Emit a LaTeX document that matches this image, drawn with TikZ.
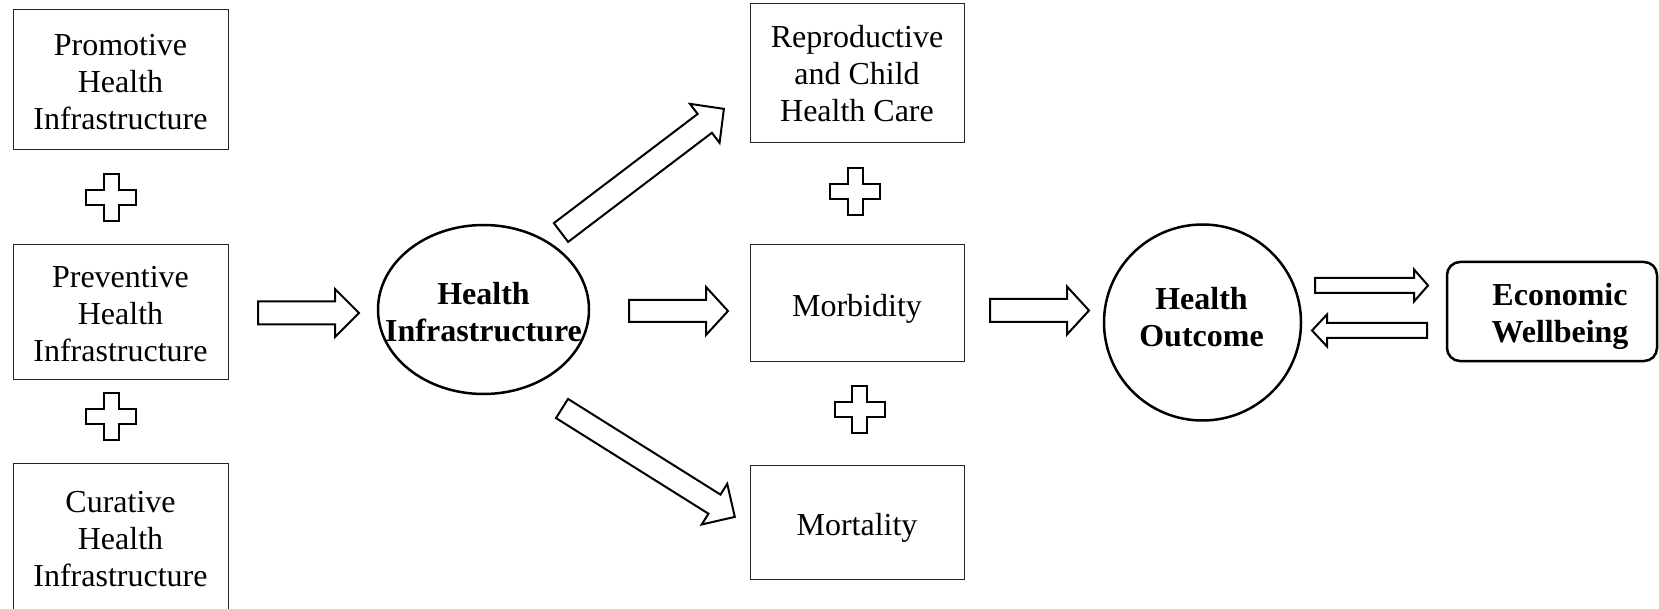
\documentclass[tikz,border=0pt]{standalone}
\usepackage{fontspec}
\setmainfont{Liberation Serif}
\usetikzlibrary{shapes.geometric}
\tikzset{
  txt/.style={font=\fontsize{32}{37}\selectfont, align=center, inner sep=0pt},
  boldtxt/.style={font=\fontsize{32}{37}\selectfont\bfseries, align=center, inner sep=0pt},
  sqbox/.style={txt, draw=black!85, line width=1pt, minimum width=215pt},
  oval/.style={draw, line width=2.5pt, ellipse, inner sep=0pt},
  ecobox/.style={draw, line width=2.5pt, rounded corners=13pt, inner sep=0pt},
  pics/fatarrow/.style args={#1/#2/#3/#4}{code={
    \draw[line width=2pt, line join=miter, fill=white]
      (0,-#2) -- ({#1-#4},-#2) -- ({#1-#4},-#3) -- (#1,0) -- ({#1-#4},#3) -- ({#1-#4},#2) -- (0,#2) -- cycle;
  }},
  pics/plussign/.style={code={
    \draw[line width=2pt, line join=miter]
      (-7.5,-23.5) -- (7.5,-23.5) -- (7.5,-7.5) -- (25,-7.5) -- (25,7.5) -- (7.5,7.5)
      -- (7.5,23.5) -- (-7.5,23.5) -- (-7.5,7.5) -- (-25,7.5) -- (-25,-7.5) -- (-7.5,-7.5) -- cycle;
  }}
}
\begin{document}
\begin{tikzpicture}[x=1pt,y=-1pt]
\useasboundingbox (0,0) rectangle (1659,609);

% left column
\node[sqbox, minimum height=140pt] (promo) at (120.5,80) {};
\node[txt] (promoT) at (120.5,82) {Promotive\\Health\\Infrastructure};
\node[sqbox, minimum height=134pt] (prev) at (120.5,312) {};
\node[txt] (prevT) at (120.5,314) {Preventive\\Health\\Infrastructure};
\node[sqbox, minimum height=150pt] (cur) at (120.5,538) {};
\node[txt] (curT) at (120.5,539) {Curative\\Health\\Infrastructure};
\pic at (111,197.5) {plussign};
\pic at (111,416.5) {plussign};

% health infrastructure
\node[oval, minimum width=211pt, minimum height=169pt] (hi) at (483.5,309.5) {};
\node[boldtxt] (hiT) at (483.5,312) {Health\\Infrastructure};

% middle column
\node[sqbox, minimum width=214pt, minimum height=139pt] (rch) at (857,73.5) {};
\node[txt] (rchT) at (857,74) {Reproductive\\and Child\\Health Care};
\node[sqbox, minimum width=214pt, minimum height=116pt] (morb) at (857,303) {};
\node[txt] (morbT) at (857,309) {Morbidity};
\node[sqbox, minimum width=214pt, minimum height=114pt] (mort) at (857,522) {};
\node[txt] (mortT) at (857,527.5) {Mortality};
\pic at (855,192) {plussign};
\pic at (859.5,409.5) {plussign};

% health outcome
\node[oval, minimum width=197pt, minimum height=196pt] (ho) at (1202.5,322.5) {};
\node[boldtxt] (hoT) at (1201.5,317.5) {Health\\Outcome};

% economic wellbeing
\node[ecobox, minimum width=210pt, minimum height=99pt] (eco) at (1552,311.5) {};
\node[boldtxt] (ecoT) at (1560,316.5) {Economic\\Wellbeing};

% block arrows
\pic at (258,313) {fatarrow=101/11.5/24/24};
\pic at (629,311) {fatarrow=99/11/24/22};
\pic at (990,310.5) {fatarrow=99/11.5/24/22};
\pic[rotate=37.2] at (561,232.5) {fatarrow=204.5/11.8/24.5/24};
\pic[rotate=-32.1] at (562,408.5) {fatarrow=204/11.3/24/24};
\pic at (1315,285.5) {fatarrow=113/7.5/16/14};
\pic[rotate=180] at (1427,330.5) {fatarrow=115/7.5/16/15};
\end{tikzpicture}
\end{document}
